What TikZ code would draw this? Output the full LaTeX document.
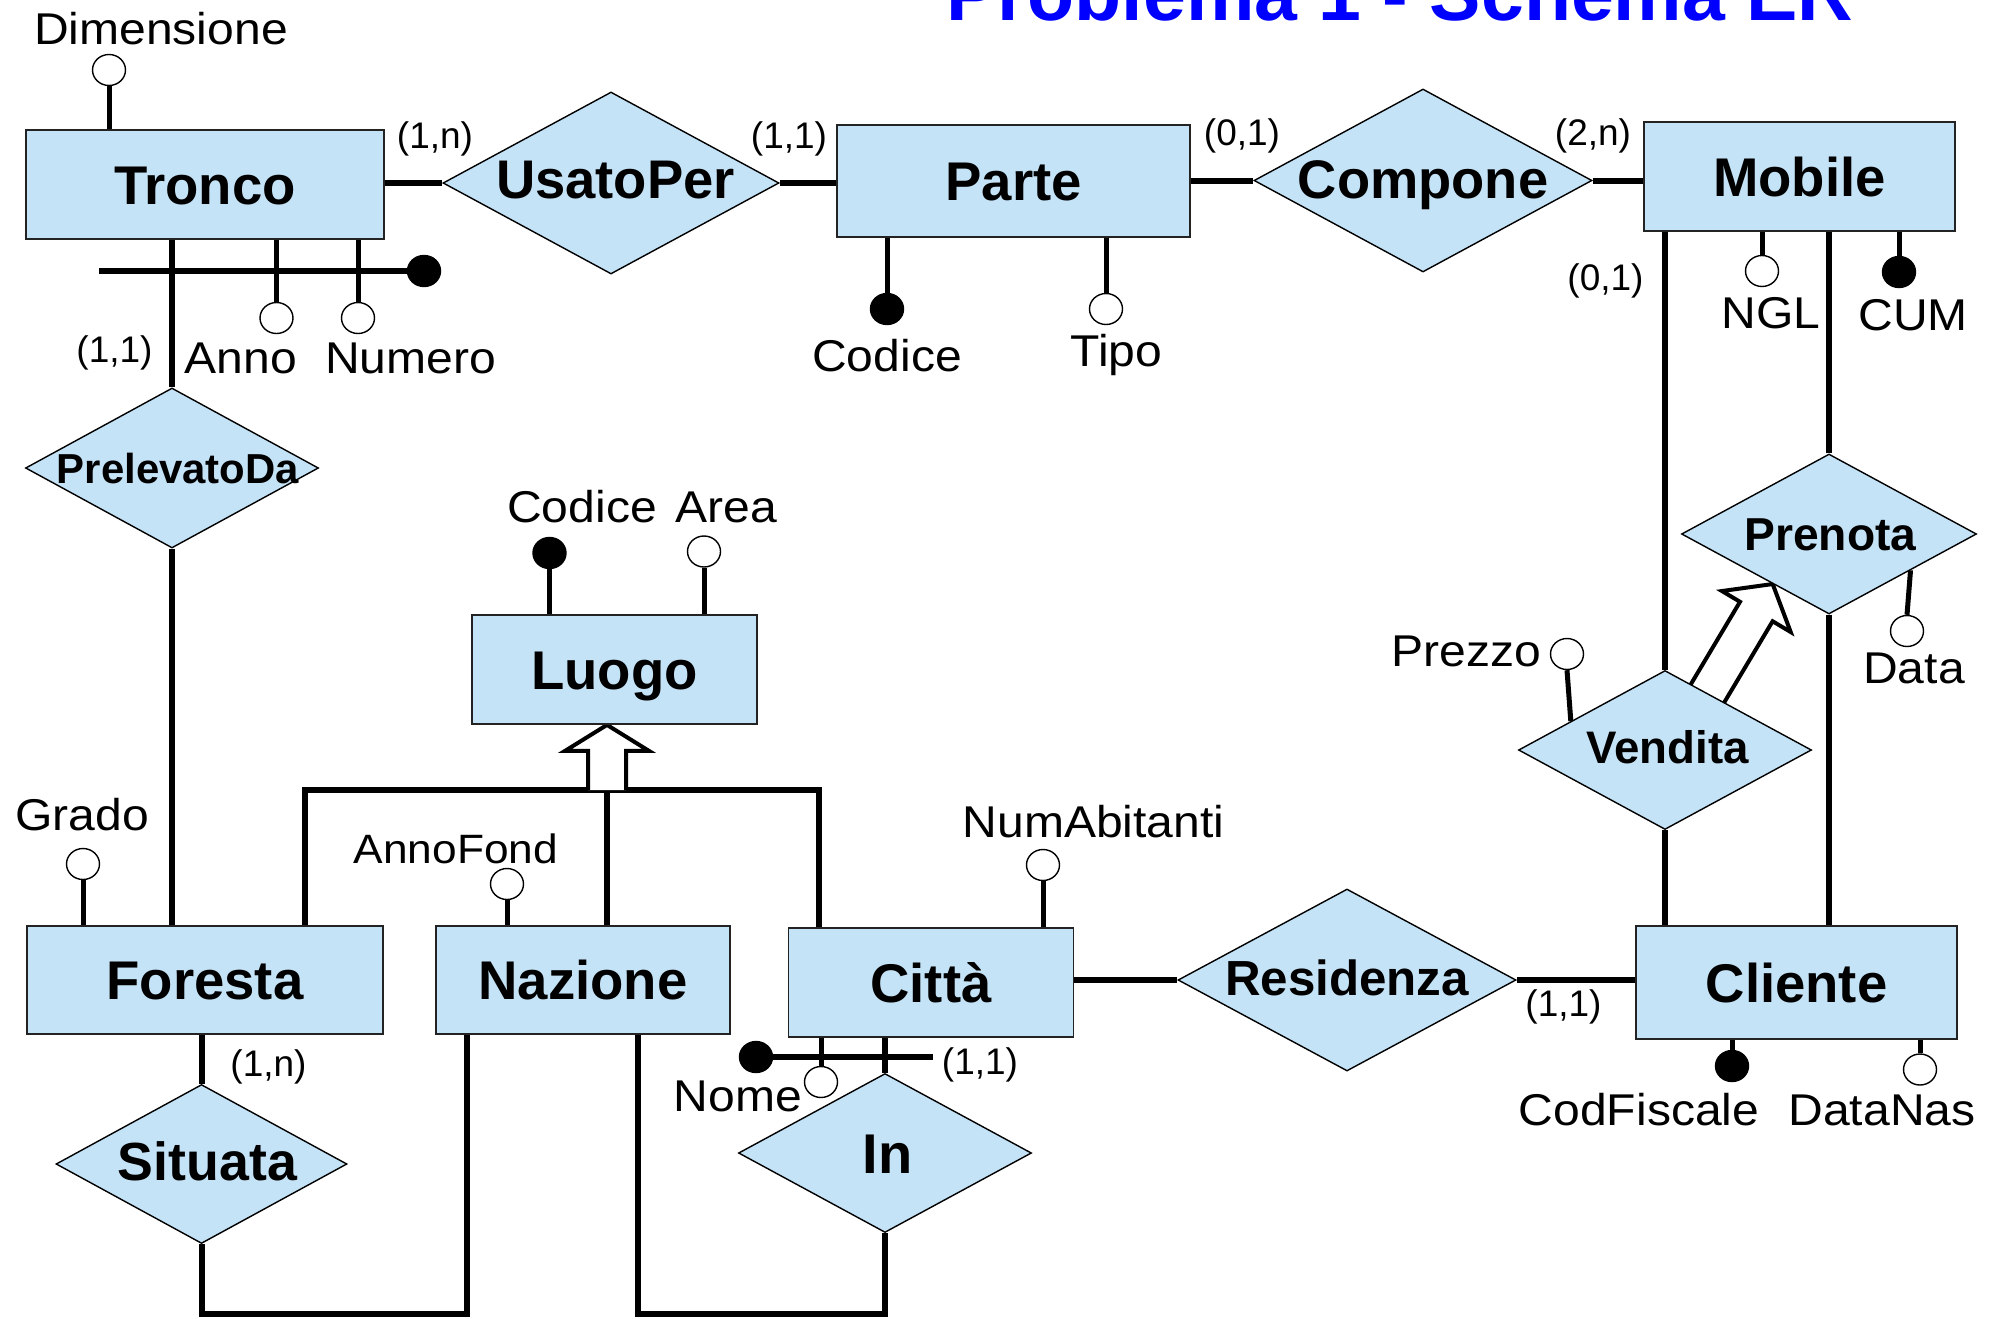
\documentclass[tikz,border=0pt]{standalone}
\usepackage{fontspec}
\setmainfont{Liberation Sans}
\newfontfamily\attrfont{Liberation Sans}[FakeStretch=1.08]
\usetikzlibrary{shapes.geometric,calc}
\definecolor{erfill}{RGB}{197,227,247}
\definecolor{erborder}{RGB}{35,35,35}
\definecolor{titleblue}{RGB}{0,0,255}
\newcommand\fs[1]{\fontsize{#1pt}{#1pt}\selectfont}
\newcommand\zw[2][0pt]{\makebox[0pt]{\hspace*{#1}#2}}
\pgfdeclarelayer{bg}
\pgfsetlayers{bg,main}
\tikzset{
  entity/.style={rectangle, draw=erborder, fill=erfill, line width=1.8pt, inner sep=0pt,
    font=\bfseries\fs{54.5}, text height=39pt, text depth=0pt},
  relship/.style={diamond, draw=black, fill=erfill, line width=1.4pt, inner sep=0pt,
    text depth=0pt},
  rel/.style={line width=6pt},
  attrline/.style={line width=5pt},
  hollowdot/.style={ellipse, draw=black, fill=white, line width=1.4pt,
    minimum width=33pt, minimum height=31pt, inner sep=0pt},
  keydot/.style={ellipse, draw=black, fill=black, line width=1.4pt,
    minimum width=33pt, minimum height=31pt, inner sep=0pt},
  attrtext/.style={anchor=base, inner sep=0pt, font=\attrfont\fs{44.5}},
  cardtext/.style={anchor=base, inner sep=0pt, font=\fs{37}},
  genarrow/.style={draw=black, fill=white, line width=4pt, line join=miter},
}
\begin{document}
\begin{tikzpicture}[x=1pt,y=-1pt]
\useasboundingbox (0,0) rectangle (2004,1319);

% title
\node[anchor=base, inner sep=0pt, font=\bfseries\fs{77}, text=titleblue] (title) at (1400,20.7) {Problema 1 - Schema ER};

% entities
\node[entity, minimum width=358pt, minimum height=109pt] (tronco) at (205,184.5) {Tronco};
\node[entity, minimum width=353pt, minimum height=112pt] (parte) at (1013.5,181) {Parte};
\node[entity, minimum width=311pt, minimum height=109pt] (mobile) at (1799.5,176.5) {Mobile};
\node[entity, minimum width=285pt, minimum height=109pt] (luogo) at (614.5,669.5) {Luogo};
\node[entity, minimum width=356pt, minimum height=108pt] (foresta) at (205,980) {Foresta};
\node[entity, minimum width=294pt, minimum height=108pt] (nazione) at (583,980) {Nazione};
\node[entity, minimum width=285pt, minimum height=109pt] (citta) at (931,982.5) {Città};
\node[entity, minimum width=321pt, minimum height=113pt] (cliente) at (1796.5,982.5) {Cliente};

% relationships
\node[relship, minimum width=336pt, minimum height=182pt, font=\bfseries\fs{54.4}, text height=39pt] (usato) at (611,183) {\zw[9pt]{\raisebox{4pt}{UsatoPer}}};
\node[relship, minimum width=338pt, minimum height=183pt, font=\bfseries\fs{54.3}, text height=39pt] (compone) at (1423,180.5) {\zw{\raisebox{2pt}{Compone}}};
\node[relship, minimum width=293pt, minimum height=160pt, font=\bfseries\fs{41.9}, text height=30pt] (prelev) at (172,468) {\zw[12pt]{PrelevatoDa}};
\node[relship, minimum width=291pt, minimum height=159pt, font=\bfseries\fs{53.7}, text height=38.5pt] (situata) at (201.5,1164) {\zw[12pt]{\raisebox{3pt}{Situata}}};
\node[relship, minimum width=293pt, minimum height=159pt, font=\bfseries\fs{56}, text height=40pt] (in) at (885,1153) {\zw[5pt]{In}};
\node[relship, minimum width=338pt, minimum height=182pt, font=\bfseries\fs{49.3}, text height=35.3pt] (residenza) at (1347,980) {\zw{\raisebox{2pt}{Residenza}}};
\node[relship, minimum width=295pt, minimum height=160pt, font=\bfseries\fs{46.2}, text height=33pt] (prenota) at (1829,534) {\zw[3pt]{Prenota}};
\node[relship, minimum width=293pt, minimum height=159pt, font=\bfseries\fs{45.6}, text height=32.6pt] (vendita) at (1665,750) {\zw[5pt]{\raisebox{3pt}{Vendita}}};

% attribute circles
\node[hollowdot] (aDim) at (109,70) {};
\node[hollowdot] (aAnno) at (276.5,318) {};
\node[hollowdot] (aNum) at (358,318) {};
\node[keydot] (kTr) at (424,271) {};
\node[keydot] (aCodP) at (887,309) {};
\node[hollowdot] (aTipo) at (1106,309) {};
\node[hollowdot] (aNGL) at (1762,271) {};
\node[keydot] (aCUM) at (1899,272) {};
\node[keydot] (aCodL) at (549.5,553) {};
\node[hollowdot] (aArea) at (704,551.5) {};
\node[hollowdot] (aGrado) at (83,864) {};
\node[hollowdot] (aAnnoF) at (507,884) {};
\node[hollowdot] (aNumAb) at (1043,865) {};
\node[hollowdot] (aNome) at (821,1082) {};
\node[keydot] (kCi) at (756,1057) {};
\node[keydot] (aCodF) at (1732,1066) {};
\node[hollowdot] (aDataN) at (1920,1069.5) {};
\node[hollowdot] (aPrezzo) at (1567,654) {};
\node[hollowdot] (aData) at (1907,631) {};

% attribute texts
\node[attrtext] (tDim) at (161,44.3) {Dimensione};
\node[attrtext] (tAnno) at (241,373) {Anno};
\node[attrtext] (tNumero) at (410.5,373) {Numero};
\node[attrtext] (tCodP) at (887,371) {Codice};
\node[attrtext] (tTipo) at (1116.5,366) {Tipo};
\node[attrtext] (tNGL) at (1771,328) {NGL};
\node[attrtext] (tCUM) at (1913,330) {CUM};
\node[attrtext] (tCodL) at (582,522) {Codice};
\node[attrtext] (tArea) at (726,522) {Area};
\node[attrtext] (tGrado) at (82,830) {Grado};
\node[attrtext, font=\attrfont\fs{41}] (tAnnoF) at (456,863) {AnnoFond};
\node[attrtext] (tNumAb) at (1093.5,837) {NumAbitanti};
\node[attrtext] (tPrezzo) at (1466.5,666) {Prezzo};
\node[attrtext] (tData) at (1914,683) {Data};
\node[attrtext] (tNome) at (738,1111.7) {Nome};
\node[attrtext] (tCodF) at (1639,1125) {CodFiscale};
\node[attrtext] (tDataN) at (1882,1125) {DataNas};

% cardinalities
\node[cardtext] (c1) at (435,149) {(1,n)};
\node[cardtext] (c2) at (789,149) {(1,1)};
\node[cardtext] (c3) at (1242,146) {(0,1)};
\node[cardtext] (c4) at (1593,146) {(2,n)};
\node[cardtext] (c5) at (1605.5,290) {(0,1)};
\node[cardtext] (c6) at (114.5,362) {(1,1)};
\node[cardtext] (c7) at (268.5,1076) {(1,n)};
\node[cardtext] (c8) at (980,1074) {(1,1)};
\node[cardtext] (c9) at (1563.5,1016) {(1,1)};

% free ends
\coordinate (kTrEnd) at (99,271);
\coordinate (kCiEnd) at (933,1057);
\coordinate (gL) at (305,790);
\coordinate (gR) at (819,790);
\coordinate (gM) at (607,790);
\coordinate (sitCorner) at (467,1314);
\coordinate (inCorner) at (638,1314);

\begin{pgfonlayer}{bg}
  % relationship connectors
  \draw[rel] (usato.west -| tronco.east) -- (usato.west);
  \draw[rel] (usato.east) -- (usato.east -| parte.west);
  \draw[rel] (parte.east) -- (parte.east -| compone.west);
  \draw[rel] (compone.east) -- (compone.east -| mobile.west);
  \draw[rel] (prelev.north) -- (prelev.north |- tronco.south);
  \draw[rel] (prelev.south) -- (prelev.south |- foresta.north);
  \draw[rel] (situata.north) -- (situata.north |- foresta.south);
  \draw[rel] (situata.south) |- (sitCorner) -- (sitCorner |- nazione.south);
  \draw[rel] (in.north) -- (in.north |- citta.south);
  \draw[rel] (in.south) |- (inCorner) -- (inCorner |- nazione.south);
  \draw[rel] (residenza.west -| citta.east) -- (residenza.west);
  \draw[rel] (residenza.east) -- (residenza.east -| cliente.west);
  \draw[rel] (vendita.north) -- (vendita.north |- mobile.south);
  \draw[rel] (vendita.south) -- (vendita.south |- cliente.north);
  \draw[rel] (prenota.north) -- (prenota.north |- mobile.south);
  \draw[rel] (prenota.south) -- (prenota.south |- cliente.north);
  % generalization Luogo
  \draw[rel] (gL |- foresta.north) -- (gL) -- (gR) -- (gR |- citta.north);
  \draw[rel] (gM) -- (gM |- nazione.north);
  % attributes
  \draw[attrline] (aDim.south) -- (aDim.south |- tronco.north);
  \draw[attrline] (aAnno.north) -- (aAnno.north |- tronco.south);
  \draw[attrline] (aNum.north) -- (aNum.north |- tronco.south);
  \draw[rel] (kTrEnd) -- (kTr.west);
  \draw[attrline] (aCodP.north) -- (aCodP.north |- parte.south);
  \draw[attrline] (aTipo.north) -- (aTipo.north |- parte.south);
  \draw[attrline] (aNGL.north) -- (aNGL.north |- mobile.south);
  \draw[attrline] (aCUM.north) -- (aCUM.north |- mobile.south);
  \draw[attrline] (aCodL.south) -- (aCodL.south |- luogo.north);
  \draw[attrline] (aArea.south) -- (aArea.south |- luogo.north);
  \draw[attrline] (aGrado.south) -- (aGrado.south |- foresta.north);
  \draw[attrline] (aAnnoF.south) -- (aAnnoF.south |- nazione.north);
  \draw[attrline] (aNumAb.south) -- (aNumAb.south |- citta.north);
  \draw[attrline] (aNome.north) -- (aNome.north |- citta.south);
  \draw[rel] (kCi.east) -- (kCiEnd);
  \draw[attrline] (aCodF.north) -- (aCodF.north |- cliente.south);
  \draw[attrline] (aDataN.north) -- (aDataN.north |- cliente.south);
  \draw[attrline] (aPrezzo.south) -- ($(vendita.west)!0.36!(vendita.north)$);
  \draw[attrline] (aData.north) -- ($(prenota.east)!0.45!(prenota.south)$);
  % generalization arrow to Luogo
  \coordinate (lst) at (gM);
  \coordinate (ltip) at (gM |- luogo.south);
  \coordinate (lh) at ($(ltip)!26pt!(lst)$);
  \path[genarrow] ($(lst)!19pt!90:(ltip)$) -- ($(lh)!19pt!90:(ltip)$) -- ($(lh)!42pt!90:(ltip)$)
     -- (ltip) -- ($(lh)!42pt!-90:(ltip)$) -- ($(lh)!19pt!-90:(ltip)$) -- ($(lst)!19pt!-90:(ltip)$);
  % generalization arrow Vendita -> Prenota
  \coordinate (vs) at ($(vendita.north)!0.29!(vendita.east)$);
  \coordinate (vtip) at ($(prenota.south)!0.38!(prenota.west)$);
  \coordinate (vst) at ($(vs)!-12pt!(vtip)$);
  \coordinate (vh) at ($(vtip)!32pt!(vst)$);
  \path[genarrow] ($(vst)!19pt!90:(vtip)$) -- ($(vh)!19pt!90:(vtip)$) -- ($(vh)!40pt!90:(vtip)$)
     -- (vtip) -- ($(vh)!40pt!-90:(vtip)$) -- ($(vh)!19pt!-90:(vtip)$) -- ($(vst)!19pt!-90:(vtip)$);
\end{pgfonlayer}
\end{tikzpicture}
\end{document}
